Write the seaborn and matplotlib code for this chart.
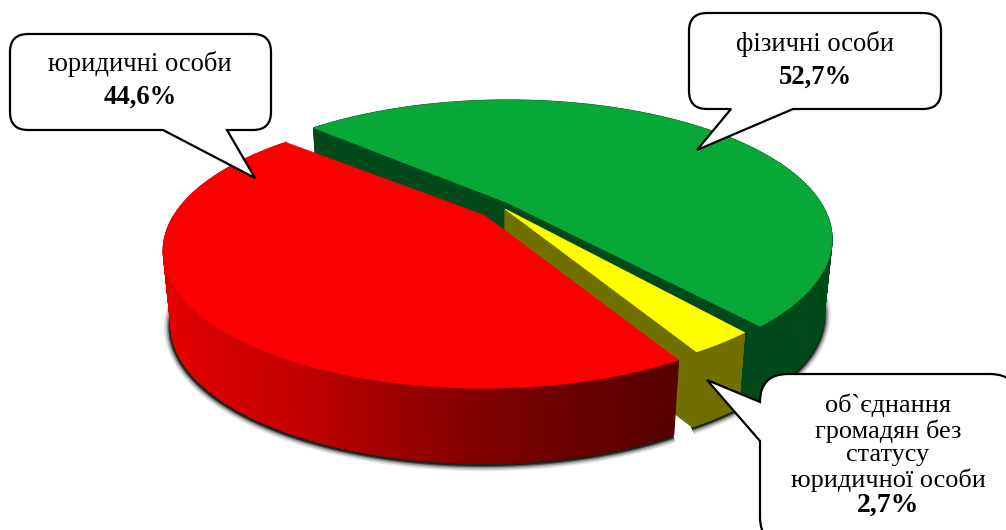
# 3d style exploded pie with speech bubble labels
import numpy as np
import matplotlib
matplotlib.use('Agg')
import matplotlib.pyplot as plt
from matplotlib.path import Path
from matplotlib.patches import PathPatch
import seaborn as sns

# data
categories = ['фізичні особи', 'об`єднання громадян без статусу юридичної особи', 'юридичні особи']
shares = [52.7, 2.7, 44.6]
share_labels = ['52,7%', '2,7%', '44,6%']

sns.set_theme(style='white')
plt.rcParams['font.family'] = ['Liberation Serif', 'DejaVu Serif']

# define variables
start_angle = 138.5
apexes = [(508, 203), (505, 209), (484, 215)]
scales = [1.0, 0.975, 0.99]
trims = [(-1.5, 1.5), (0, 0), (0, 0)]
top_colors = ['#08a838', '#ffff00', '#fa0000']
wall_colors = ['#00491a', '#707000', None]
A, B, k = 313, 129.7, 0.259
depth = 75
bottom_scale = 0.975

# red wall shading along screen x
shade_x = [165, 300, 440, 560, 680]
shade_r = [228, 195, 140, 108, 85]


def project(angle, apex, scale=1.0, low=False):
    t = np.radians(angle)
    X, Y = np.cos(t), np.sin(t)
    w = 1 + k * Y
    dx, dy = scale * A * X / w, scale * B * Y / w
    if low:
        return apex[0] + bottom_scale * dx, apex[1] - dy + depth
    return apex[0] + dx, apex[1] - dy


def bubble(x0, y0, x1, y1, r, side, tail):
    # rounded box with a tail; side says which edge the tail leaves from
    verts = []
    codes = []

    def corner(p, c, q):
        verts.extend([p, c, q])
        codes.extend([Path.LINETO, Path.CURVE3, Path.CURVE3])

    verts.append((x0 + r, y0))
    codes.append(Path.MOVETO)
    corner((x1 - r, y0), (x1, y0), (x1, y0 + r))
    corner((x1, y1 - r), (x1, y1), (x1 - r, y1))
    if side == 'bottom':
        for p in tail:
            verts.append(p)
            codes.append(Path.LINETO)
    corner((x0 + r, y1), (x0, y1), (x0, y1 - r))
    if side == 'left':
        for p in tail:
            verts.append(p)
            codes.append(Path.LINETO)
    corner((x0, y0 + r), (x0, y0), (x0 + r, y0))
    verts.append((x0 + r, y0))
    codes.append(Path.CLOSEPOLY)
    return PathPatch(Path(verts, codes), facecolor='white', edgecolor='black', lw=1.6, zorder=20)


fig = plt.figure(figsize=(10.06, 5.30), dpi=100)
ax = fig.add_axes([0, 0, 1, 1])
ax.set_xlim(0, 1006)
ax.set_ylim(530, 0)
ax.axis('off')

# slice angle ranges from the shares
spans = np.array(shares) / np.sum(shares) * 360
ends = start_angle - np.cumsum(spans)
starts = ends + spans
starts = starts + np.array([t[0] for t in trims])
ends = ends + np.array([t[1] for t in trims])

# shadow round the foot of the pie
for s, e, apex, sc in zip(starts, ends, apexes, scales):
    arc = np.linspace(s, e, 200)
    pts = np.array([project(a, apex, sc, low=True) for a in arc])
    front = pts[:, 1] > apex[1] + depth - 25
    for lw, alpha in [(10, 0.10), (8, 0.16), (6, 0.28), (4, 0.6), (2.5, 0.9)]:
        ax.plot(pts[front, 0] - 0.3, pts[front, 1] + 1.0, color='#161f1a', lw=lw, alpha=alpha,
                solid_capstyle='butt', zorder=1)

# slices, back to front: green, yellow, red
for i, (s, e, apex, sc) in enumerate(zip(starts, ends, apexes, scales)):
    arc = np.linspace(s, e, 240)
    z = 2 + i
    # outer wall in small quads
    for a0, a1 in zip(arc[:-1], arc[1:]):
        p0, p1 = project(a0, apex, sc), project(a1, apex, sc)
        q0, q1 = project(a0, apex, sc, low=True), project(a1, apex, sc, low=True)
        if wall_colors[i] is None:
            r = np.interp((q0[0] + q1[0]) / 2, shade_x, shade_r) / 255
            c = (r, 0, 0)
        else:
            c = wall_colors[i]
        ax.fill([p0[0], p1[0], q1[0], q0[0]], [p0[1], p1[1], q1[1], q0[1]],
                color=c, lw=0.8, zorder=z)
    # cut faces
    if wall_colors[i] is not None:
        for a in (s, e):
            p, q = project(a, apex, sc), project(a, apex, sc, low=True)
            ax.fill([apex[0], p[0], q[0], apex[0]], [apex[1], p[1], q[1], apex[1] + depth],
                    color=wall_colors[i], lw=0.6, zorder=z)
    # top
    pts = [project(a, apex, sc) for a in arc]
    xs = [apex[0]] + [p[0] for p in pts]
    ys = [apex[1]] + [p[1] for p in pts]
    ax.fill(xs, ys, color=top_colors[i], lw=0.4, zorder=z + 0.5)

# speech bubbles
ax.add_patch(bubble(10, 34, 271, 130, 18, 'bottom', [(227, 130), (255, 178), (163, 130)]))
ax.add_patch(bubble(689, 13, 941, 109, 18, 'bottom', [(793, 109), (697, 150), (731, 109)]))
ax.add_patch(bubble(760, 374, 1018, 545, 28, 'left', [(760, 441), (707, 380), (760, 402)]))

fs = 19.2
bold_fs = 19.2
ax.text(140, 64, categories[2], ha='center', va='center', fontsize=fs, zorder=21, color='black')
ax.text(140, 97, share_labels[2], ha='center', va='center', fontsize=bold_fs, fontweight='bold', zorder=21, color='black')
ax.text(815, 44, categories[0], ha='center', va='center', fontsize=fs, zorder=21, color='black')
ax.text(815, 77, share_labels[0], ha='center', va='center', fontsize=bold_fs, fontweight='bold', zorder=21, color='black')
lines = ['об`єднання', 'громадян без', 'статусу', 'юридичної особи']
for y, line in zip([405, 431, 455, 480], lines):
    ax.text(888, y, line, ha='center', va='center', fontsize=18.9, zorder=21, color='black')
ax.text(888, 505, share_labels[1], ha='center', va='center', fontsize=bold_fs + 0.8, fontweight='bold', zorder=21, color='black')

plt.savefig('out.png', dpi=100)
